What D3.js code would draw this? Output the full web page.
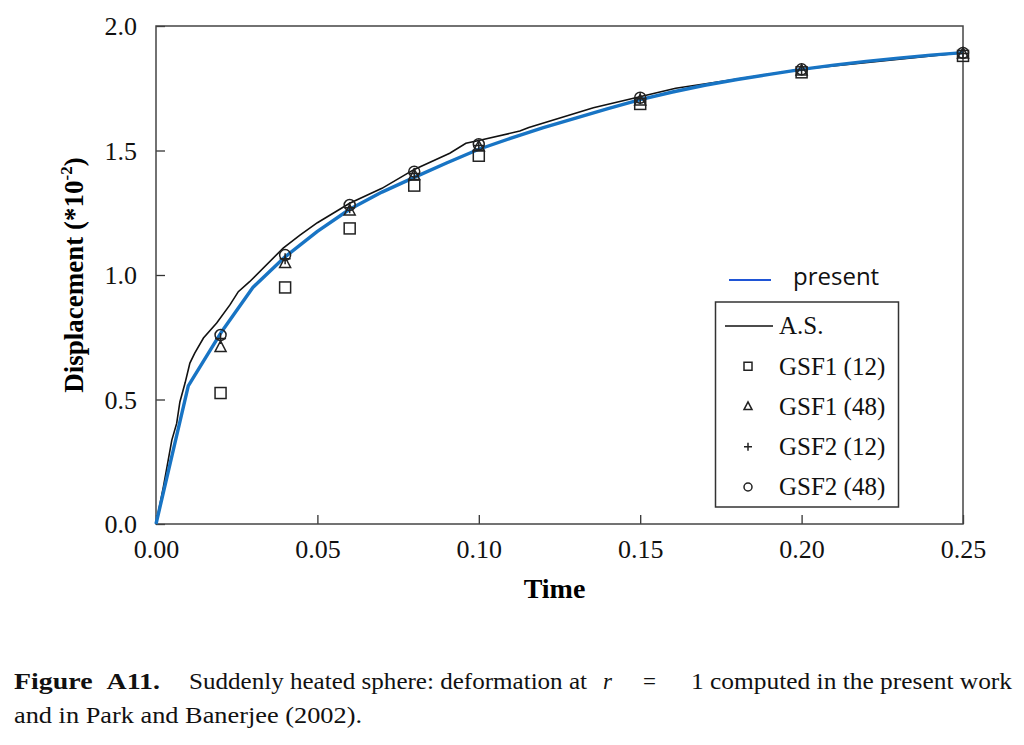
<!DOCTYPE html>
<html>
<head>
<meta charset="utf-8">
<script src="https://cdn.jsdelivr.net/npm/d3@7"></script>
<style>
  body { margin: 0; background: #fff; }
  svg { display: block; }
</style>
</head>
<body>
<script>
// present work, sampled every 0.01
var presentT = [0, 0.01, 0.02, 0.03, 0.04, 0.05, 0.06, 0.07, 0.08, 0.09, 0.10, 0.11, 0.12,
  0.13, 0.14, 0.15, 0.16, 0.17, 0.18, 0.19, 0.20, 0.21, 0.22, 0.23, 0.24, 0.25];
var presentU = [0, 0.555, 0.766, 0.95, 1.073, 1.175, 1.264, 1.333, 1.392, 1.45, 1.505, 1.55, 1.592,
  1.63, 1.668, 1.704, 1.735, 1.762, 1.785, 1.806, 1.826, 1.843, 1.858, 1.871, 1.883, 1.893];

// analytical solution (A.S.)
var asT = [0, 0.0023, 0.0049, 0.0064, 0.0074, 0.009, 0.0105, 0.012, 0.0147, 0.0188, 0.0229, 0.0255,
  0.029, 0.0394, 0.0446, 0.05, 0.06, 0.07, 0.08, 0.091, 0.096, 0.10, 0.1127, 0.1155, 0.1355,
  0.161, 0.20, 0.25];
var asU = [0, 0.15, 0.337, 0.404, 0.49, 0.566, 0.646, 0.686, 0.747, 0.807, 0.88, 0.933,
  0.973, 1.108, 1.16, 1.21, 1.288, 1.348, 1.424, 1.489, 1.529, 1.54, 1.578, 1.592, 1.672,
  1.75, 1.826, 1.893];

// Park and Banerjee (2002) results
var gsfT = [0.02, 0.04, 0.06, 0.08, 0.10, 0.15, 0.20, 0.25];
var gsf1_12 = [0.526, 0.95, 1.187, 1.359, 1.479, 1.687, 1.814, 1.88];
var gsf1_48 = [0.71, 1.047, 1.258, 1.40, 1.515, 1.70, 1.82, 1.888];
var gsf2_12 = [0.745, 1.065, 1.27, 1.408, 1.52, 1.708, 1.823, 1.89];
var gsf2_48 = [0.759, 1.08, 1.281, 1.415, 1.525, 1.712, 1.826, 1.892];

var xTicks = [0, 0.05, 0.10, 0.15, 0.20, 0.25];
var yTicks = [0, 0.5, 1.0, 1.5, 2.0];

var width = 1024, height = 745;
var plotL = 156, plotR = 963, plotT = 26, plotB = 524;

var serif = "'Liberation Serif', 'Times New Roman', serif";

var svg = d3.select("body").append("svg")
  .attr("width", width)
  .attr("height", height);

var x = d3.scaleLinear().domain([0, 0.25]).range([plotL, plotR]);
var y = d3.scaleLinear().domain([0, 2]).range([plotB, plotT]);

// axes, ticks pointing inside
var xAxis = svg.append("g")
  .attr("transform", "translate(0," + plotB + ")")
  .call(d3.axisBottom(x).tickValues(xTicks).tickFormat(d3.format(".2f"))
    .tickSizeInner(-9).tickSizeOuter(0).tickPadding(16));
var yAxis = svg.append("g")
  .attr("transform", "translate(" + plotL + ",0)")
  .call(d3.axisLeft(y).tickValues(yTicks).tickFormat(d3.format(".1f"))
    .tickSizeInner(-9).tickSizeOuter(0).tickPadding(19));

[xAxis, yAxis].forEach(function(a) {
  a.select(".domain").remove();
  a.selectAll("line").attr("stroke", "#333").attr("stroke-width", 1.3);
  a.selectAll("text")
    .attr("font-family", serif)
    .attr("font-size", 26)
    .attr("fill", "#111");
});
xAxis.selectAll("text").attr("dy", "0.71em");
yAxis.selectAll("text").attr("dy", "0.34em");

// frame
svg.append("rect")
  .attr("x", plotL).attr("y", plotT)
  .attr("width", plotR - plotL).attr("height", plotB - plotT)
  .attr("fill", "none").attr("stroke", "#444").attr("stroke-width", 1.5);

// axis titles
svg.append("text")
  .attr("x", (plotL + plotR) / 2 - 5).attr("y", 598)
  .attr("text-anchor", "middle")
  .attr("font-family", serif).attr("font-weight", "bold").attr("font-size", 28)
  .text("Time");

var yt = svg.append("text")
  .attr("transform", "translate(83," + ((plotT + plotB) / 2) + ") rotate(-90)")
  .attr("text-anchor", "middle")
  .attr("font-family", serif).attr("font-weight", "bold").attr("font-size", 27);
yt.append("tspan").text("Displacement (*10");
yt.append("tspan").attr("dy", -11).attr("font-size", 17).text("-2");
yt.append("tspan").attr("dy", 11).text(")");

// lines
var line = d3.line()
  .x(function(d) { return x(d[0]); })
  .y(function(d) { return y(d[1]); });

svg.append("path")
  .datum(d3.zip(asT, asU))
  .attr("d", line)
  .attr("fill", "none").attr("stroke", "#111").attr("stroke-width", 1.6);

svg.append("path")
  .datum(d3.zip(presentT, presentU))
  .attr("d", line)
  .attr("fill", "none").attr("stroke", "#1874c4").attr("stroke-width", 3.4)
  .attr("stroke-linejoin", "round");

// marker symbols
var markStroke = "#222";
function drawMarker(g, kind, size) {
  if (kind === "square") {
    g.append("rect").attr("x", -size / 2).attr("y", -size / 2)
      .attr("width", size).attr("height", size);
  } else if (kind === "triangle") {
    var h = size * 0.95;
    g.append("path").attr("d", "M0," + (-h * 0.6) + "L" + (size / 2) + "," + (h * 0.4) +
      "L" + (-size / 2) + "," + (h * 0.4) + "Z");
  } else if (kind === "plus") {
    g.append("path").attr("d", "M" + (-size / 2) + ",0H" + (size / 2) + "M0," + (-size / 2) + "V" + (size / 2));
  } else {
    g.append("circle").attr("r", size / 2);
  }
  g.selectAll("*").attr("fill", "none").attr("stroke", markStroke).attr("stroke-width", 1.5);
}

var series = [
  { name: "GSF1 (12)", values: gsf1_12, kind: "square" },
  { name: "GSF1 (48)", values: gsf1_48, kind: "triangle" },
  { name: "GSF2 (12)", values: gsf2_12, kind: "plus" },
  { name: "GSF2 (48)", values: gsf2_48, kind: "circle" }
];

series.forEach(function(s) {
  svg.append("g").selectAll("g")
    .data(d3.zip(gsfT, s.values))
    .enter().append("g")
    .attr("transform", function(d) { return "translate(" + x(d[0]) + "," + y(d[1]) + ")"; })
    .each(function() { drawMarker(d3.select(this), s.kind, 11); });
});

// legend: "present" sits above the box
svg.append("line")
  .attr("x1", 729).attr("x2", 771).attr("y1", 280).attr("y2", 280)
  .attr("stroke", "#1f55d6").attr("stroke-width", 2);
svg.append("text")
  .attr("x", 793).attr("y", 285)
  .attr("font-family", "'Open Sans', 'Noto Sans', sans-serif").attr("font-size", 24)
  .attr("fill", "#111")
  .text("present");

svg.append("rect")
  .attr("x", 715.5).attr("y", 302)
  .attr("width", 183).attr("height", 205)
  .attr("fill", "#fff").attr("stroke", "#333").attr("stroke-width", 1.5);

var legRows = [{ name: "A.S.", kind: "line" }].concat(series);
var legY = d3.scalePoint().domain(legRows.map(function(d) { return d.name; }))
  .range([326, 487]);

legRows.forEach(function(r) {
  var yy = legY(r.name);
  if (r.kind === "line") {
    svg.append("line").attr("x1", 725).attr("x2", 773).attr("y1", yy).attr("y2", yy)
      .attr("stroke", "#111").attr("stroke-width", 1.6);
  } else {
    var g = svg.append("g").attr("transform", "translate(748," + yy + ")");
    drawMarker(g, r.kind, 8);
  }
  svg.append("text")
    .attr("x", 779).attr("y", yy).attr("dy", "0.33em")
    .attr("font-family", serif).attr("font-size", 25)
    .attr("fill", "#111")
    .text(r.name);
});

// caption (line 1 is justified in the source)
function capText(xx, yy, str, len) {
  var t = svg.append("text")
    .attr("x", xx).attr("y", yy)
    .attr("font-family", serif).attr("font-size", 23).attr("fill", "#111")
    .text(str);
  if (len) t.attr("textLength", len).attr("lengthAdjust", "spacingAndGlyphs");
  return t;
}
capText(14, 689, "Figure\u2002A11.", 146).attr("font-weight", "bold");
capText(189, 689, "Suddenly heated sphere: deformation at", 398);
capText(603, 689, "r").attr("font-style", "italic");
capText(643, 689, "=");
capText(691, 689, "1 computed in the present work", 321);
capText(14, 723, "and in Park and Banerjee (2002).", 348);
</script>
</body>
</html>
